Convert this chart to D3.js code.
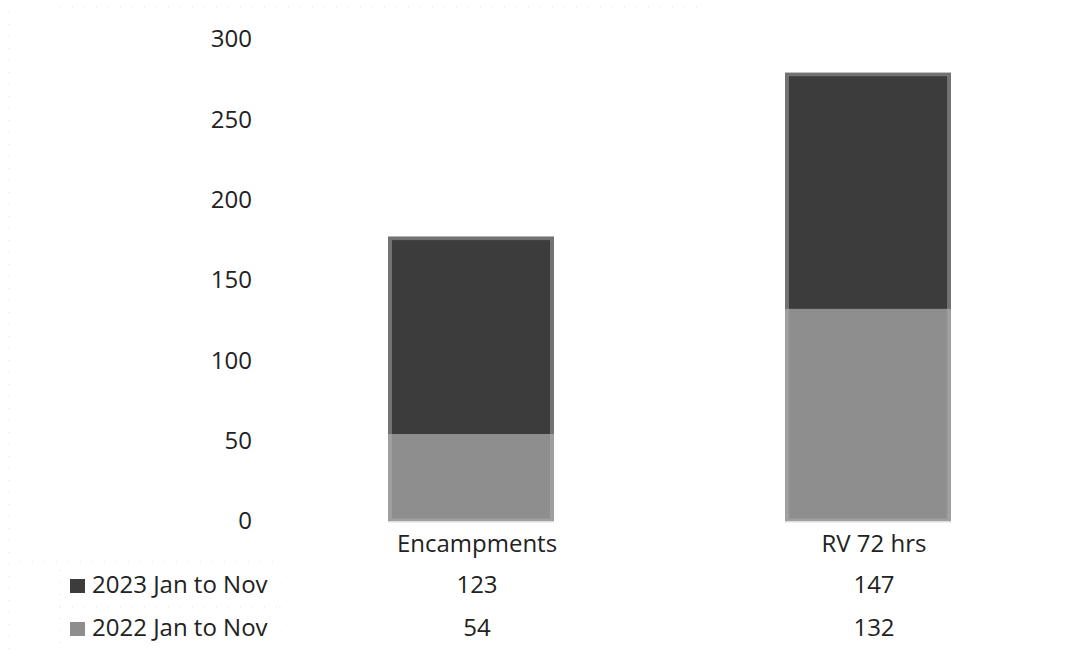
<!DOCTYPE html>
<html>
<head>
<meta charset="utf-8">
<script src="https://cdn.jsdelivr.net/npm/d3@7"></script>
<style>
  html, body { margin: 0; padding: 0; background: #fff; }
  svg { display: block; }
  text { font-family: "Open Sans", "Noto Sans", sans-serif; font-size: 24px; fill: #222; }
</style>
</head>
<body>
<svg id="chart" width="1066" height="664"></svg>
<script>
// Stacked totals by request type, with the data table underneath
const categories = ["Encampments", "RV 72 hrs"];
const seriesNames = ["2023 Jan to Nov", "2022 Jan to Nov"];
const values2022 = [54, 132];
const values2023 = [123, 147];
const yTicks = [0, 50, 100, 150, 200, 250, 300];

const colors = { "2023 Jan to Nov": "#3c3c3c", "2022 Jan to Nov": "#8e8e8e" };

const svg = d3.select("#chart");

const y = d3.scaleLinear().domain([0, 300]).range([521, 39]);
const x = d3.scalePoint().domain(categories).range([471, 868]);
const barW = 166;
const textShift = 6;

// faint dotted table rules
const rule = svg.append("g").attr("stroke", "#e2e2e2").attr("stroke-width", 1)
  .attr("stroke-dasharray", "1 11").attr("fill", "none");
rule.append("line").attr("x1", 9).attr("x2", 9).attr("y1", 12).attr("y2", 660);
rule.append("line").attr("x1", 60).attr("x2", 700).attr("y1", 7).attr("y2", 7);
rule.append("line").attr("x1", 60).attr("x2", 60).attr("y1", 570).attr("y2", 648);
rule.append("line").attr("x1", 280).attr("x2", 280).attr("y1", 570).attr("y2", 648);
rule.append("line").attr("x1", 60).attr("x2", 280).attr("y1", 607).attr("y2", 607);
rule.append("line").attr("x1", 20).attr("x2", 280).attr("y1", 562).attr("y2", 562);

// y axis labels only
const yAxis = d3.axisLeft(y).tickValues(yTicks).tickSize(0).tickPadding(6);
const ax = svg.append("g").attr("transform", "translate(258,0)").call(yAxis);
ax.select(".domain").remove();
ax.selectAll("text")
  .style("font-family", "'Open Sans', 'Noto Sans', sans-serif")
  .style("font-size", "24px")
  .attr("fill", "#222");

// stacked bars
const rows = categories.map((c, i) => ({ cat: c, "2022 Jan to Nov": values2022[i], "2023 Jan to Nov": values2023[i] }));
const stack = d3.stack().keys(["2022 Jan to Nov", "2023 Jan to Nov"])(rows);

const layers = svg.append("g").selectAll("g").data(stack).join("g")
  .attr("fill", d => colors[d.key]);
layers.selectAll("rect").data(d => d).join("rect")
  .attr("x", d => x(d.data.cat) - barW / 2)
  .attr("width", barW)
  .attr("y", d => y(d[1]))
  .attr("height", d => y(d[0]) - y(d[1]));

// soft lighter edges on each bar
svg.append("g").selectAll("rect").data(categories).join("rect")
  .attr("x", c => x(c) - barW / 2 + 2)
  .attr("width", barW - 4)
  .attr("y", (c, i) => y(values2022[i] + values2023[i]) + 1.5)
  .attr("height", (c, i) => y(0) - y(values2022[i] + values2023[i]) - 2)
  .attr("fill", "none")
  .attr("stroke", "#b4b4b4")
  .attr("stroke-opacity", 0.45)
  .attr("stroke-width", 4);

// category labels
svg.append("g").selectAll("text").data(categories).join("text")
  .attr("x", c => x(c) + textShift)
  .attr("y", 552)
  .attr("text-anchor", "middle")
  .text(c => c);

// data table
const tableRows = [
  { name: seriesNames[0], vals: values2023, base: 593 },
  { name: seriesNames[1], vals: values2022, base: 636 }
];
const tbl = svg.append("g");
tableRows.forEach(r => {
  tbl.append("rect")
    .attr("x", 70).attr("y", r.base - 14).attr("width", 15).attr("height", 14)
    .attr("fill", colors[r.name]);
  tbl.append("text").attr("x", 92).attr("y", r.base).text(r.name);
  tbl.selectAll(null).data(categories).join("text")
    .attr("x", c => x(c) + textShift)
    .attr("y", r.base)
    .attr("text-anchor", "middle")
    .text((c, i) => r.vals[i]);
});
</script>
</body>
</html>
